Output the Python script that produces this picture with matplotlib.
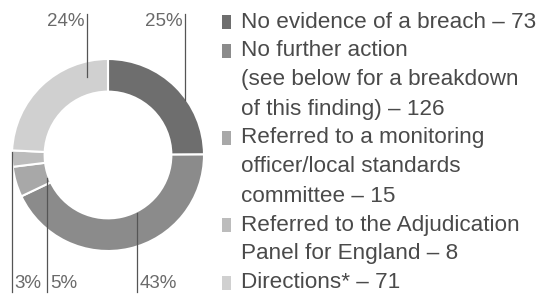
import matplotlib
matplotlib.use("Agg")
import matplotlib.pyplot as plt
from matplotlib.patches import Rectangle

# ---- data ----
categories = [
    "No evidence of a breach",
    "No further action",
    "Referred to a monitoring officer",
    "Referred to the Adjudication Panel",
    "Directions*",
]
counts = [73, 126, 15, 8, 71]
pct_labels = ["25%", "43%", "5%", "3%", "24%"]
legend_lines = [
    ["No evidence of a breach \u2013 73"],
    ["No further action", "(see below for a breakdown", "of this finding) \u2013 126"],
    ["Referred to a monitoring", "officer/local standards", "committee \u2013 15"],
    ["Referred to the Adjudication", "Panel for England \u2013 8"],
    ["Directions* \u2013 71"],
]

# ---- style ----
colors = ["#6e6e6e", "#8b8b8b", "#a8a8a8", "#bcbcbc", "#d0d0d0"]
text_color = "#4a4a4a"
label_color = "#6a6a6a"
FONT = "Liberation Sans"

W, H = 541, 295
fig = plt.figure(figsize=(W / 100, H / 100), dpi=100)
fig.patch.set_facecolor("white")

# donut axes (pixel layout)
cx, cy, R = 108, 155, 96
pax = fig.add_axes([(cx - R) / W, (H - cy - R) / H, 2 * R / W, 2 * R / H])
pax.pie(counts, colors=colors, startangle=90, counterclock=False,
        wedgeprops=dict(width=0.34, edgecolor="white", linewidth=1.5))
pax.set_xlim(-1, 1)
pax.set_ylim(-1, 1)
pax.set_aspect("equal")
pax.axis("off")

# overlay axes in pixel coordinates
ax = fig.add_axes([0, 0, 1, 1], zorder=5)
ax.set_xlim(0, W)
ax.set_ylim(H, 0)
ax.axis("off")
ax.patch.set_alpha(0)

# leader lines and percentage labels: (x, y_top, y_bottom, label_x, label_y, ha)
leaders = {
    "25%": (185, 14, 100, 183, 22, "right"),
    "43%": (137, 213, 292, 140, 283, "left"),
    "5%": (47, 178, 292, 50, 283, "left"),
    "3%": (12, 152, 292, 14, 283, "left"),
    "24%": (87, 14, 77, 84, 22, "right"),
}
for lab in pct_labels:
    x, y0, y1, lx, ly, ha = leaders[lab]
    ax.plot([x, x], [y0, y1], color="#555555", lw=0.9)
    ax.text(lx, ly, lab, ha=ha, va="center", fontsize=13.5, color=label_color,
            family=FONT)

# legend
line_h = 29
y = 22
for col, lines in zip(colors, legend_lines):
    ax.add_patch(Rectangle((222, y - 7), 9, 14, facecolor=col, edgecolor="none"))
    for ln in lines:
        ax.text(241, y, ln, ha="left", va="center", fontsize=16.2,
                color=text_color, family=FONT)
        y += line_h

fig.savefig("out.png", dpi=100, facecolor="white")
